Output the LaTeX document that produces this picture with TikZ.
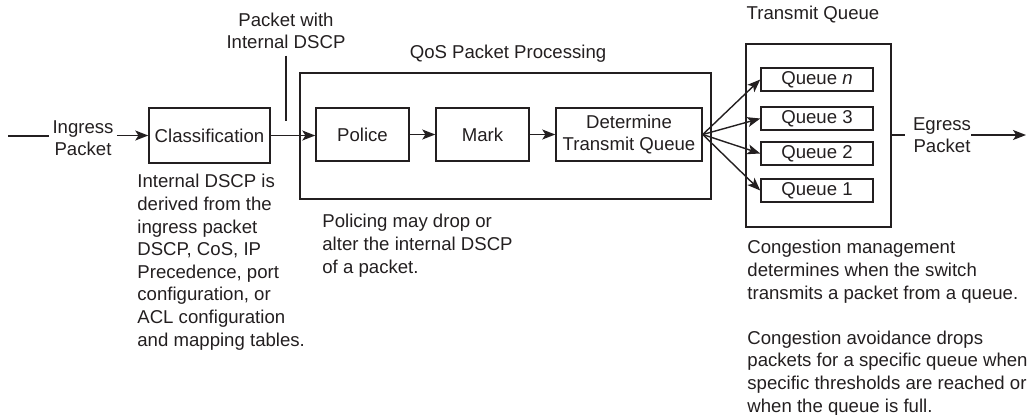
\documentclass[tikz,border=0pt]{standalone}
\usepackage{fontspec}
\setmainfont{Liberation Sans}
\usetikzlibrary{arrows.meta}
\definecolor{ink}{HTML}{231F20}
\begin{document}
\begin{tikzpicture}[x=0.5pt,y=-0.5pt,
  every node/.style={font=\fontsize{9.3}{11.3}\selectfont, text=ink},
  stagebox/.style={draw=ink, line width=0.75pt, rectangle, inner sep=0pt},
  queuebox/.style={stagebox, minimum width=56pt, minimum height=11.5pt},
  txt/.style={inner sep=0pt, align=left, anchor=north west},
  link/.style={draw=ink, line width=0.7pt},
  flow/.style={link, -{Stealth[length=6.5pt,width=5pt,inset=1.6pt]}}]
\useasboundingbox (0,0) rectangle (1027,414);

% classification stage
\node[stagebox, minimum width=60.5pt, minimum height=27.5pt] (cls) at (209.5,135.5) {Classification};

% QoS packet processing group
\node[stagebox, minimum width=205.5pt, minimum height=63pt] (qos) at (505.5,136) {};
\node[inner sep=0pt] (qoslbl) at (508,54) {QoS Packet Processing};
\node[stagebox, minimum width=46.5pt, minimum height=26.5pt] (pol) at (362.5,134.5) {Police};
\node[stagebox, minimum width=46.5pt, minimum height=26.5pt] (mark) at (482.5,134.5) {Mark};
\node[stagebox, minimum width=73pt, minimum height=26.5pt, align=center] (dtq) at (629,134.5) {Determine\\Transmit Queue};

% transmit queue group
\node[stagebox, minimum width=72.5pt, minimum height=91.5pt] (tq) at (818.5,135.5) {};
\node[inner sep=0pt] (tqlbl) at (813,15) {Transmit Queue};
\node[queuebox] (qn) at (817,79.5) {Queue \textit{n}};
\node[queuebox] (q3) at (817,118.5) {Queue 3};
\node[queuebox] (q2) at (817,153.5) {Queue 2};
\node[queuebox] (q1) at (817,190.5) {Queue 1};

% ingress and egress labels
\node[inner sep=0pt, inner xsep=1.5pt, align=center] (ing) at (83,138) {Ingress\\Packet};
\node[inner sep=0pt, align=center] (egr) at (942,135) {Egress\\Packet};
\coordinate (in0) at (8,136);
\coordinate (out) at (1026,135);

% tap label on the link between classification and policing
\node[inner sep=0pt, align=center] (tap) at (286,31) {Packet with\\Internal DSCP};
\coordinate (tapend) at (286,121);

% connectors
\draw[link] (in0) -- (in0 -| ing.west);
\draw[flow] (ing.east |- cls.west) -- (cls.west);
\draw[flow] (cls.east) -- (cls.east -| pol.west);
\draw[link] ([yshift=-3pt]tap.south) -- (tapend);
\draw[flow] (pol.east) -- (pol.east -| mark.west);
\draw[flow] (mark.east) -- (mark.east -| dtq.west);
\foreach \q in {qn,q3,q2,q1} \draw[flow] (dtq.east) -- (\q.west);
\draw[link] (tq.east |- egr) -- ([xshift=-4pt]egr.west);
\draw[flow] (egr.east) -- (out);

% explanatory notes
\node[txt] (clsnote) at (137,174) {Internal DSCP is\\derived from the\\ingress packet\\DSCP, CoS, IP\\Precedence, port\\configuration, or\\ACL configuration\\and mapping tables.};
\node[txt] (polnote) at (322,214) {Policing may drop or\\alter the internal DSCP\\of a packet.};
\node[txt] (tqnote) at (747,240) {Congestion management\\determines when the switch\\transmits a packet from a queue.\\[11.3pt]Congestion avoidance drops\\packets for a specific queue when\\specific thresholds are reached or\\when the queue is full.};
\end{tikzpicture}
\end{document}
